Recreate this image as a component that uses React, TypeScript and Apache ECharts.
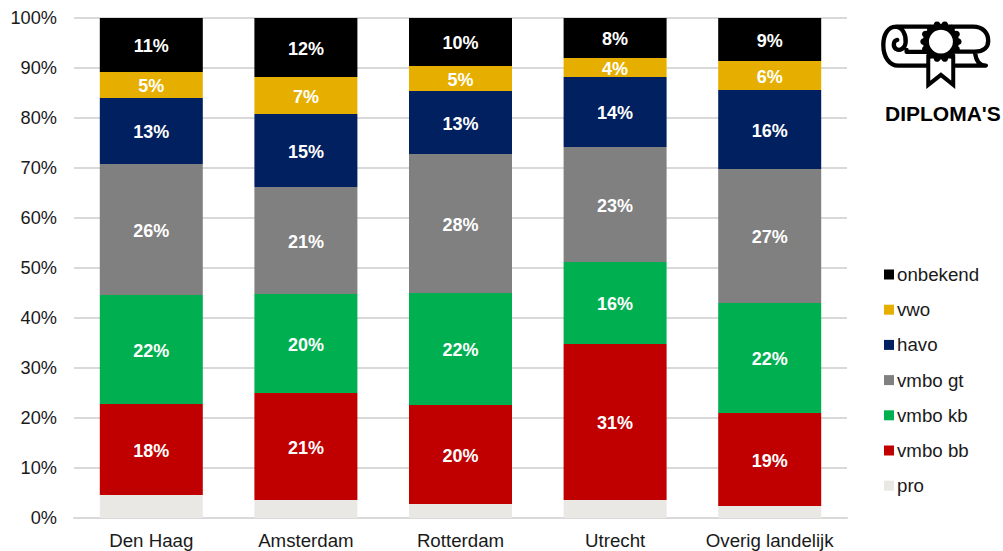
import React, { useEffect, useRef } from "react";
import * as echarts from "echarts";

const categories = ["Den Haag", "Amsterdam", "Rotterdam", "Utrecht", "Overig landelijk"];
const pro = [4.6, 3.6, 2.8, 3.6, 2.4];
const vmboBb = [18.2, 21.4, 19.8, 31.2, 18.6];
const vmboKb = [21.8, 19.8, 22.4, 16.4, 22.0];
const vmboGt = [26.2, 21.4, 27.8, 23.0, 26.8];
const havo = [13.2, 14.6, 12.6, 14.0, 15.8];
const vwo = [5.2, 7.4, 5.0, 3.8, 5.8];
const onbekend = [10.8, 11.8, 9.6, 8.0, 8.6];
const seriesNames = ["pro", "vmbo bb", "vmbo kb", "vmbo gt", "havo", "vwo", "onbekend"];
const seriesValues = [pro, vmboBb, vmboKb, vmboGt, havo, vwo, onbekend];
const seriesColors = ["#E9E8E4", "#C00000", "#00B050", "#808080", "#002060", "#E6AF00", "#000000"];

const FONT = "Liberation Sans";
const scrollPath =
  "M378 197 L115 197 C88 197 70 170 70 135 C70 103 85 80 108 80 L340 80 C368 80 385 98 385 122 C385 142 372 155 345 155 L285 155 M345 155 C347 175 355 197 378 197 M108 80 C128 82 139 105 137 128 C135 146 120 154 108 147 C98 139 100 122 112 120 M140 150 L140 156 L205 156";
const ribbonPath = "M205 170 L205 255 L243 225 L280 255 L280 170 Z";

echarts.graphic.registerShape("diplomaScroll", echarts.graphic.extendPath(scrollPath, {}));
echarts.graphic.registerShape("diplomaRibbon", echarts.graphic.extendPath(ribbonPath, {}));

const badgeBumps = Array.from({ length: 14 }, (_, i) => {
  const a = (i / 14) * Math.PI * 2;
  return {
    type: "circle",
    shape: { cx: 243 + 52 * Math.cos(a), cy: 125 + 52 * Math.sin(a), r: 10 },
    style: { fill: "#000" },
  };
});

export default function App() {
  const ref = useRef<HTMLDivElement>(null);
  useEffect(() => {
    document.body.style.margin = "0";
    const chart = echarts.init(ref.current!, null, { renderer: "svg" });
    chart.setOption({
      animation: false,
      backgroundColor: "#fff",
      grid: { left: 74, right: 156, top: 18, bottom: 33, containLabel: false },
      legend: {
        orient: "vertical",
        left: 879,
        top: 259,
        itemWidth: 10,
        itemHeight: 10,
        itemGap: 14.2,
        icon: "rect",
        selectedMode: false,
        data: [...seriesNames].reverse(),
        textStyle: { fontFamily: FONT, fontSize: 18.7, color: "#1a1a1a", padding: [0, 0, 0, -2], lineHeight: 21 },
      },
      xAxis: {
        type: "category",
        data: categories,
        axisLine: { show: true, lineStyle: { color: "#d9d9d9", width: 2 } },
        axisTick: { show: false },
        axisLabel: { fontFamily: FONT, fontSize: 18.7, color: "#1a1a1a", margin: 13, interval: 0 },
      },
      yAxis: {
        type: "value",
        min: 0,
        max: 100,
        interval: 10,
        axisLine: { show: false },
        axisTick: { show: false },
        splitLine: { lineStyle: { color: "#d9d9d9", width: 2 } },
        axisLabel: { fontFamily: FONT, fontSize: 18.2, color: "#1a1a1a", margin: 17, formatter: "{value}%" },
      },
      series: seriesNames.map((name, i) => ({
        name,
        type: "bar",
        stack: "total",
        barWidth: 103,
        data: seriesValues[i],
        itemStyle: { color: seriesColors[i] },
        label: {
          show: i > 0,
          position: "inside",
          offset: [0, 1],
          fontFamily: FONT,
          fontSize: 18,
          fontWeight: "bold",
          color: "#fff",
          formatter: (p: any) => `${Math.round(p.value)}%`,
        },
      })),
      graphic: [
        {
          type: "group",
          x: 860,
          y: 0,
          scaleX: 1 / 3,
          scaleY: 1 / 3,
          children: [
            { type: "diplomaScroll", style: { fill: "none", stroke: "#000", lineWidth: 13, lineJoin: "round", lineCap: "round" } },
            { type: "diplomaRibbon", style: { fill: "#fff", stroke: "#000", lineWidth: 12, lineJoin: "miter" } },
            ...badgeBumps,
            { type: "circle", shape: { cx: 243, cy: 125, r: 54 }, style: { fill: "#000" } },
            { type: "circle", shape: { cx: 243, cy: 125, r: 36 }, style: { fill: "#fff" } },
          ],
        },
        {
          type: "text",
          x: 885,
          y: 103,
          style: { text: "DIPLOMA'S", fontFamily: FONT, fontSize: 21, fontWeight: "bold", fill: "#000" },
        },
      ],
    });
    return () => chart.dispose();
  }, []);
  return <div ref={ref} style={{ width: 1003, height: 551, position: "absolute", left: 0, top: 0 }} />;
}
